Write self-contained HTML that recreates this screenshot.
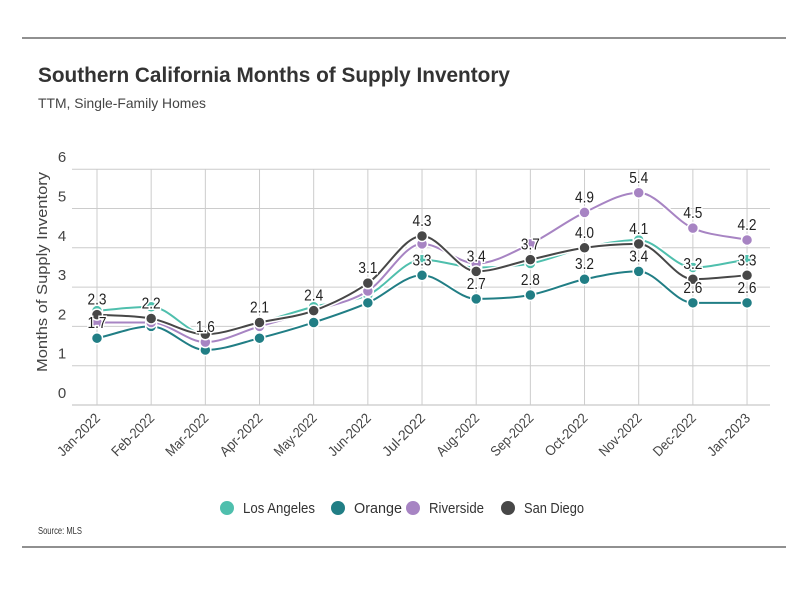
<!DOCTYPE html>
<html><head><meta charset="utf-8"><style>
body{margin:0;background:#fff;font-family:"Liberation Sans",sans-serif;}
svg text{font-family:"Liberation Sans",sans-serif;}
</style></head><body>
<svg id="c" width="810" height="592">
<line x1="22" y1="38" x2="786" y2="38" stroke="#222" stroke-width="1"/>
<text x="38" y="82" font-size="21" font-weight="bold" fill="#333" textLength="472" lengthAdjust="spacingAndGlyphs">Southern California Months of Supply Inventory</text>
<text x="38" y="108" font-size="14" fill="#444" textLength="168" lengthAdjust="spacingAndGlyphs">TTM, Single-Family Homes</text>
<text transform="translate(47,272) rotate(-90)" text-anchor="middle" font-size="15" fill="#444" textLength="200" lengthAdjust="spacingAndGlyphs">Months of Supply Inventory</text>
<g id="grid"></g><g id="series"></g><g id="legend"></g>
<text x="38" y="534" font-size="10" fill="#333" textLength="44" lengthAdjust="spacingAndGlyphs">Source:  MLS</text>
<line x1="22" y1="547" x2="786" y2="547" stroke="#222" stroke-width="1"/>
</svg>
<script>
const categories=["Jan-2022","Feb-2022","Mar-2022","Apr-2022","May-2022","Jun-2022","Jul-2022","Aug-2022","Sep-2022","Oct-2022","Nov-2022","Dec-2022","Jan-2023"];
const yTicks=[0,1,2,3,4,5,6];
const losAngeles=[2.4,2.5,1.8,2.1,2.5,2.8,3.7,3.5,3.6,4.0,4.2,3.5,3.7];
const orange=[1.7,2.0,1.4,1.7,2.1,2.6,3.3,2.7,2.8,3.2,3.4,2.6,2.6];
const riverside=[2.1,2.1,1.6,2.0,2.4,2.9,4.1,3.6,4.1,4.9,5.4,4.5,4.2];
const sanDiego=[2.3,2.2,1.8,2.1,2.4,3.1,4.3,3.4,3.7,4.0,4.1,3.2,3.3];
const orangeLabeled=[1,0,0,0,0,0,1,1,1,1,1,1,1];
const riversideLabeled=[0,0,1,0,0,0,0,0,0,1,1,1,1];
const sanDiegoLabeled=[1,1,0,1,1,1,1,1,1,1,1,1,1];
const seriesNames=["Los Angeles","Orange","Riverside","San Diego"];
const NS="http://www.w3.org/2000/svg";
const x=i=>97+i*54.17, y=v=>405-v*39.3;
function mk(t,a,p){const e=document.createElementNS(NS,t);for(const k in a)e.setAttribute(k,a[k]);(p||document.getElementById('series')).appendChild(e);return e;}
const grid=document.getElementById('grid');
yTicks.forEach(t=>{
 const l=mk('line',{x1:72,x2:770,y1:y(t),y2:y(t),stroke:t==0?'#bbb':'#ccc'},grid);
 
 
 const tx=mk('text',{x:62,y:y(t)-7,'font-size':15,fill:'#444','text-anchor':'middle'},grid);tx.textContent=t;
 
 
});
categories.forEach((c,i)=>{
 const l=mk('line',{x1:x(i),x2:x(i),y1:y(6),y2:y(0),stroke:'#ccc'},grid);
 
 
 const tx=mk('text',{transform:`translate(${x(i)+4},${y(0)+14}) rotate(-45)`,'font-size':14,fill:'#444','text-anchor':'end',textLength:54,lengthAdjust:'spacingAndGlyphs'},grid);tx.textContent=c;
 
 
});
function path(vals){
 const n=vals.length,px=vals.map((v,i)=>x(i)),py=vals.map(y);
 const d=[],m=[];for(let i=0;i<n-1;i++)d.push((py[i+1]-py[i])/(px[i+1]-px[i]));
 for(let i=0;i<n;i++){if(i==0)m.push(d[0]);else if(i==n-1)m.push(d[n-2]);else m.push(d[i-1]*d[i]<=0?0:(d[i-1]+d[i])/2);}
 for(let i=0;i<n-1;i++){if(d[i]==0){m[i]=0;m[i+1]=0;}}
 let s=`M${px[0]},${py[0]}`;
 for(let i=0;i<n-1;i++){const h=(px[i+1]-px[i])/3;s+=`C${px[i]+h},${py[i]+m[i]*h} ${px[i+1]-h},${py[i+1]-m[i+1]*h} ${px[i+1]},${py[i+1]}`;}
 return s;
}
const cfg=[[losAngeles,'#4fbfad',null],[orange,'#217e85',orangeLabeled],[riverside,'#a784c3',riversideLabeled],[sanDiego,'#474747',sanDiegoLabeled]];
cfg.forEach(([vals,col,lab],k)=>{
 const p=mk('path',{d:path(vals),fill:'none',stroke:'#fff','stroke-width':5});
 
 
 const q=mk('path',{d:path(vals),fill:'none',stroke:col,'stroke-width':2});
 
 
 vals.forEach((v,i)=>{
  const c=mk('circle',{cx:x(i),cy:y(v),r:5.5,fill:col,stroke:'#fff','stroke-width':1.5});
  
  
 });
});
cfg.forEach(([vals,col,lab])=>{
 if(!lab)return;
 vals.forEach((v,i)=>{if(!lab[i])return;
  const t=mk('text',{x:x(i),y:y(v)-10,'font-size':16,fill:'#222','text-anchor':'middle',stroke:'#fff','stroke-width':3,'paint-order':'stroke',textLength:19,lengthAdjust:'spacingAndGlyphs'});t.textContent=v.toFixed(1);
  
  
 });
});
const lg=document.getElementById('legend');
const lx=[227,338,413,508];
const lw=[72,48,55,60];
seriesNames.forEach((n,k)=>{
 const c=mk('circle',{cx:lx[k],cy:508,r:7,fill:cfg[k][1]},lg);
 
 
 const t=mk('text',{x:lx[k]+16,y:513,'font-size':15,fill:'#333',textLength:lw[k],lengthAdjust:'spacingAndGlyphs'},lg);t.textContent=n;
 
 
});
</script>
</body></html>
